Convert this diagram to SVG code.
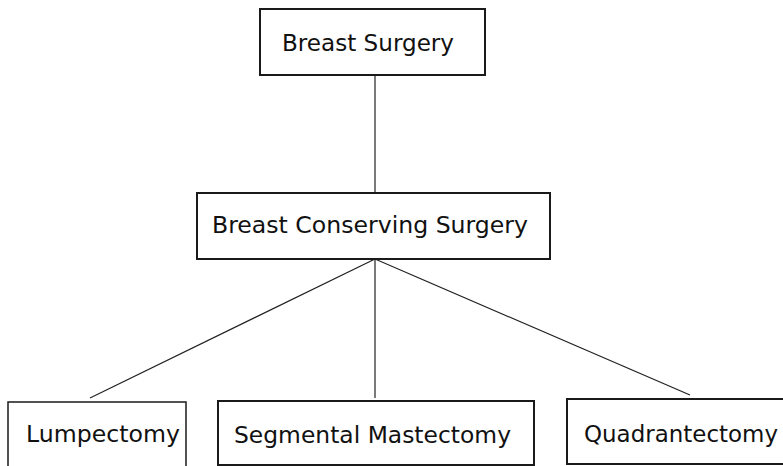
<svg xmlns="http://www.w3.org/2000/svg" width="783" height="466" viewBox="0 0 783 466">
  <style>
    .box { fill: #ffffff; stroke: #1a1a1a; stroke-width: 2; }
    .thin { stroke-width: 1.5; }
    .label { font-family: "DejaVu Sans", Verdana, sans-serif; font-size: 22.5px; fill: #111111; }
    .link { stroke: #222222; stroke-width: 1.2; fill: none; }
  </style>
  <rect width="783" height="466" fill="#ffffff"/>

  <g id="connectors">
    <line class="link" x1="375" y1="75" x2="375" y2="193"/>
    <line class="link" x1="375" y1="259" x2="90" y2="398"/>
    <line class="link" x1="375" y1="259" x2="375" y2="398"/>
    <line class="link" x1="375" y1="259" x2="690" y2="395"/>
  </g>

  <g id="breast-surgery">
    <rect class="box" x="260" y="9" width="225" height="66"/>
    <text class="label" x="282" y="51" textLength="172" lengthAdjust="spacingAndGlyphs">Breast Surgery</text>
  </g>

  <g id="breast-conserving-surgery">
    <rect class="box" x="197" y="193" width="353" height="66"/>
    <text class="label" x="212" y="233" textLength="316" lengthAdjust="spacingAndGlyphs">Breast Conserving Surgery</text>
  </g>

  <g id="lumpectomy">
    <rect class="box thin" x="8" y="402" width="178" height="70"/>
    <text class="label" x="26" y="442" textLength="154" lengthAdjust="spacingAndGlyphs">Lumpectomy</text>
  </g>

  <g id="segmental-mastectomy">
    <rect class="box" x="218" y="401" width="316" height="64"/>
    <text class="label" x="234" y="443" textLength="277" lengthAdjust="spacingAndGlyphs">Segmental Mastectomy</text>
  </g>

  <g id="quadrantectomy">
    <rect class="box" x="567" y="399" width="230" height="65"/>
    <text class="label" x="584" y="442" textLength="194" lengthAdjust="spacingAndGlyphs">Quadrantectomy</text>
  </g>
</svg>
